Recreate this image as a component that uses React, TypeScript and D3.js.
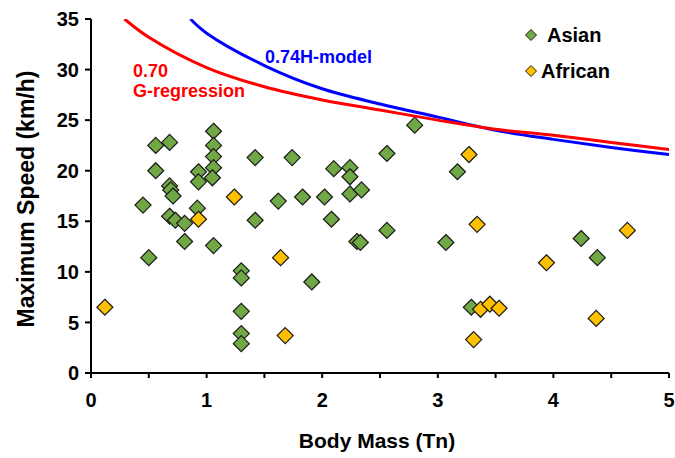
import React from 'react';
import * as d3 from 'd3';

// body mass (Tn) and maximum speed (km/h)
const asianMass = [1.06, 0.56, 0.68, 1.06, 1.06, 1.42, 0.56, 0.93, 1.06, 1.05, 0.93, 0.68, 0.69, 0.71, 0.45, 1.62, 0.92, 0.68, 0.73, 0.81, 1.42, 0.81, 1.06, 0.50, 1.30, 1.30, 1.30, 1.30, 1.30, 2.80, 1.74, 2.56, 2.10, 2.24, 2.24, 3.17, 1.83, 2.02, 2.24, 2.34, 2.08, 2.30, 2.33, 2.56, 3.07, 1.91, 4.24, 4.38, 3.29];
const asianSpeed = [23.9, 22.5, 22.8, 22.5, 21.4, 21.3, 20.0, 19.9, 20.3, 19.3, 18.9, 18.5, 18.1, 17.5, 16.6, 17.0, 16.3, 15.5, 15.1, 14.8, 15.1, 13.0, 12.6, 11.4, 10.1, 9.4, 6.1, 3.9, 2.9, 24.5, 21.3, 21.7, 20.2, 20.3, 19.4, 19.9, 17.4, 17.4, 17.7, 18.1, 15.2, 13.0, 12.9, 14.1, 12.9, 9.0, 13.3, 11.4, 6.5];

const africanMass = [0.12, 0.93, 1.24, 1.64, 1.68, 3.27, 3.34, 4.64, 3.94, 3.37, 3.45, 3.53, 4.37, 3.31];
const africanSpeed = [6.5, 15.2, 17.4, 11.4, 3.7, 21.6, 14.7, 14.1, 10.9, 6.3, 6.8, 6.4, 5.4, 3.3];

// model curves
const gRegMass = [0.29, 0.5, 1.0, 1.5, 2.0, 2.5, 3.0, 3.5, 4.0, 4.5, 5.0];
const gRegSpeed = [35.0, 33.2, 30.2, 28.3, 27.0, 26.0, 25.0, 24.1, 23.5, 22.8, 22.1];
const hModelMass = [0.86, 1.0, 1.5, 2.0, 2.5, 3.0, 3.5, 4.0, 4.5, 5.0];
const hModelSpeed = [35.0, 33.6, 30.4, 28.1, 26.6, 25.3, 24.0, 23.1, 22.3, 21.6];

const yTicks = [0, 5, 10, 15, 20, 25, 30, 35];
const xTicks = [0, 1, 2, 3, 4, 5];

const GREEN = '#70a845';
const ORANGE = '#ffc000';
const FONT = '"Liberation Sans", Arial, sans-serif';

const W = 675;
const H = 458;
const left = 91;
const right = 669;
const top = 19;
const bottom = 373;

const diamond = (cx: number, cy: number, r: number) =>
  `M${cx},${cy - r}L${cx + r},${cy}L${cx},${cy + r}L${cx - r},${cy}Z`;

export default function App() {
  const x = d3.scaleLinear().domain([0, 5]).range([left, right]);
  const y = d3.scaleLinear().domain([0, 35]).range([bottom, top]);

  const line = d3
    .line<[number, number]>()
    .x((d) => x(d[0]))
    .y((d) => y(d[1]))
    .curve(d3.curveCatmullRom.alpha(0.5));

  const gReg = gRegMass.map((m, i) => [m, gRegSpeed[i]] as [number, number]);
  const hMod = hModelMass.map((m, i) => [m, hModelSpeed[i]] as [number, number]);
  const minorX = d3.range(0, 5.01, 0.5);

  return (
    <svg width={W} height={H} style={{ position: 'absolute', left: 0, top: 0, background: '#fff' }}>
      <defs>
        <clipPath id="plot">
          <rect x={left} y={top} width={right - left} height={bottom - top} />
        </clipPath>
      </defs>

      {/* points */}
      {asianMass.map((m, i) => (
        <path key={'a' + i} d={diamond(x(m), y(asianSpeed[i]), 8)} fill={GREEN} stroke="#1a1a1a" strokeWidth={1.2} />
      ))}
      {africanMass.map((m, i) => (
        <path key={'f' + i} d={diamond(x(m), y(africanSpeed[i]), 8)} fill={ORANGE} stroke="#1a1a1a" strokeWidth={1.2} />
      ))}

      {/* curves */}
      <g clipPath="url(#plot)">
        <path d={line(hMod) || ''} fill="none" stroke="#0000ff" strokeWidth={3} />
        <path d={line(gReg) || ''} fill="none" stroke="#ff0000" strokeWidth={3} />
      </g>

      {/* axes */}
      <g stroke="#000" strokeWidth={2}>
        <line x1={left} x2={left} y1={top} y2={bottom + 4} />
        <line x1={left - 5} x2={right} y1={bottom} y2={bottom} />
        {yTicks.map((t) => (
          <line key={'yt' + t} x1={left - 6} x2={left} y1={y(t)} y2={y(t)} />
        ))}
        {minorX.map((t) => (
          <line key={'xt' + t} x1={x(t)} x2={x(t)} y1={bottom} y2={bottom + 5} />
        ))}
      </g>

      <g fontFamily={FONT} fontWeight="bold" fontSize={19} fill="#000">
        {yTicks.map((t) => (
          <text key={'yl' + t} x={left - 12} y={y(t)} dy="0.36em" textAnchor="end" fontSize={20}>
            {t}
          </text>
        ))}
        {xTicks.map((t) => (
          <text key={'xl' + t} x={x(t)} y={bottom + 34} textAnchor="middle" fontSize={20}>
            {t}
          </text>
        ))}
        <text x={(left + right) / 2 - 3} y={448} textAnchor="middle" fontSize={21}>
          Body Mass (Tn)
        </text>
        <text transform={`translate(34, ${(top + bottom) / 2 + 3}) rotate(-90)`} textAnchor="middle" fontSize={23}>
          Maximum Speed (km/h)
        </text>

        {/* legend */}
        <path d={diamond(531, 35, 5.5)} fill={GREEN} stroke="#1a1a1a" strokeWidth={1} />
        <text x={547} y={42} fontSize={20}>Asian</text>
        <path d={diamond(531, 71, 5.5)} fill={ORANGE} stroke="#1a1a1a" strokeWidth={1} />
        <text x={541} y={78} fontSize={20}>African</text>

        {/* curve labels */}
        <text x={265} y={63} fill="#0000ff" fontSize={18}>0.74H-model</text>
        <text x={133} y={77} fill="#ff0000" fontSize={18}>0.70</text>
        <text x={133} y={97} fill="#ff0000" fontSize={18}>G-regression</text>
      </g>
    </svg>
  );
}
